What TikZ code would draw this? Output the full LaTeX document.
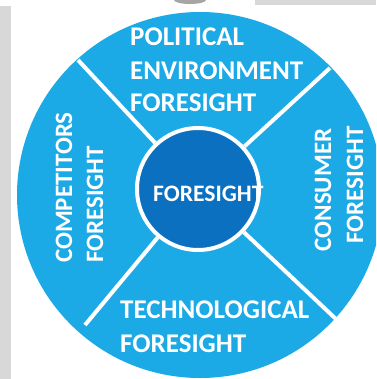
\documentclass[tikz,border=0pt]{standalone}
\usepackage{fontspec}
\setmainfont{Carlito}
\definecolor{skyb}{HTML}{1BAAE6}
\definecolor{deepb}{HTML}{0B70C0}
\definecolor{greyb}{HTML}{D8D8D8}
\begin{document}
\begin{tikzpicture}[x=1pt,y=-1pt,
  lbl/.style={text=white, font=\fontsize{27}{27}\selectfont\bfseries, inner sep=0pt, anchor=base west},
  vlbl/.style={lbl, rotate=90, font=\fontsize{25}{25}\selectfont\bfseries},
  divider/.style={draw=white, line width=4pt}]
\useasboundingbox (0,0) rectangle (376,379);
\fill[white] (0,0) rectangle (376,379);
\fill[greyb] (0,6) rectangle (11,379);
\fill[greyb] (255,0) rectangle (376,5);
\begin{scope}
  \clip (0,0) rectangle (376,379);
  \fill[gray!70] (190,0) ellipse (16pt and 4pt);
  \fill[skyb] (200,195) circle (183pt);
\end{scope}
\node[circle, fill=deepb, draw=white, line width=4pt, minimum size=122pt, inner sep=0pt] (core) at (198,189) {};
\coordinate (ul) at (78,60);
\coordinate (ur) at (330,68);
\coordinate (lr) at (337,320);
\coordinate (ll) at (85,325);
\draw[divider] (core) -- (ul);
\draw[divider] (core) -- (ur);
\draw[divider] (core) -- (lr);
\draw[divider] (core) -- (ll);
\node[lbl] (p1) at (130,46) {POLITICAL};
\node[lbl] (p2) at (130,80) {ENVIRONMENT};
\node[lbl] (p3) at (130,112) {FORESIGHT};
\node[lbl] (t1) at (120,318) {TECHNOLOGICAL};
\node[lbl] (t2) at (120,352) {FORESIGHT};
\node[vlbl] (c1) at (72,263) {COMPETITORS};
\node[vlbl] (c2) at (103,263) {FORESIGHT};
\node[vlbl, anchor=base] (s1) at (331,190) {CONSUMER};
\node[vlbl, anchor=base] (s2) at (363,185) {FORESIGHT};
\node[lbl, font=\fontsize{23.6}{23.6}\selectfont\bfseries] (f) at (153,201) {FORESIGHT};
\end{tikzpicture}
\end{document}
